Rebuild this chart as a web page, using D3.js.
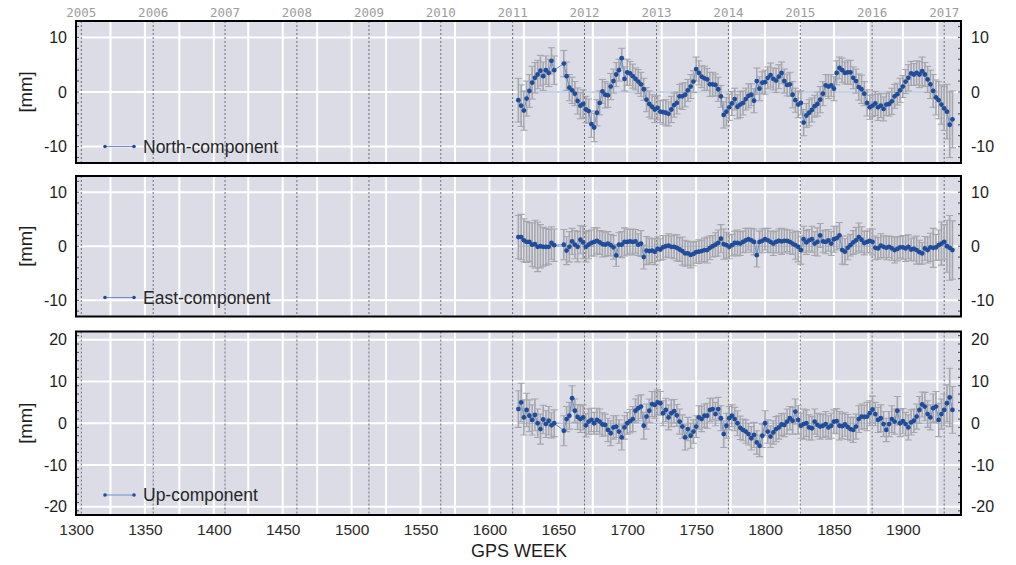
<!DOCTYPE html>
<html>
<head>
<meta charset="utf-8">
<script src="https://cdn.jsdelivr.net/npm/d3@7"></script>
<style>
  body { margin: 0; background: #fff; }
  svg { display: block; font-family: "Liberation Sans", Arial, Helvetica, sans-serif; }
</style>
</head>
<body>
<svg id="chart" width="1016" height="565"></svg>
<script>
// ── DATA ────────────────────────────────────────────
const weeks = [
  1621,1623,1625,1627,1629,1631,1633,1635,1637,1639,
  1641,1643,1645,1647,1654,1656,1658,1660,1662,1664,
  1666,1668,1670,1672,1674,1676,1678,1680,1682,1684,
  1686,1688,1690,1692,1694,1696,1698,1700,1702,1704,
  1706,1708,1710,1712,1714,1716,1718,1720,1722,1724,
  1726,1728,1730,1732,1734,1736,1738,1740,1742,1744,
  1746,1748,1750,1752,1754,1756,1758,1760,1762,1764,
  1766,1768,1770,1772,1774,1776,1778,1780,1782,1784,
  1786,1788,1790,1792,1794,1796,1798,1800,1802,1804,
  1806,1808,1810,1812,1814,1816,1818,1820,1822,1824,
  1826,1828,1830,1832,1834,1836,1838,1840,1842,1844,
  1846,1848,1850,1852,1854,1856,1858,1860,1862,1864,
  1866,1868,1870,1872,1874,1876,1878,1880,1882,1884,
  1886,1888,1890,1892,1894,1896,1898,1900,1902,1904,
  1906,1908,1910,1912,1914,1916,1918,1920,1922,1924,
  1926,1928,1930,1932,1934,1936
];

const north = [
  -1.5,-2.5,-3.4,-1.2,0.2,1.7,2.6,3.2,3.9,2.9,
  4.0,3.5,5.7,4.0,5.2,2.9,0.8,0.3,-0.3,-1.65,
  -2.5,-2.2,-3.2,-3.5,-5.9,-6.5,-3.8,-2.0,0.1,-0.5,
  -0.6,1.0,2.0,3.2,4.0,6.2,2.4,3.6,3.4,2.9,
  2.4,1.9,1.4,0.5,-1.4,-2.2,-2.7,-3.2,-2.9,-3.6,
  -3.7,-3.8,-4.0,-3.2,-2.4,-2.0,-0.8,-0.8,-0.5,0.3,
  1.0,1.9,4.2,3.5,2.8,2.5,2.3,1.4,1.4,1.3,
  0.5,-0.8,-4.2,-3.6,-2.8,-2.1,-1.3,-2.7,-2.3,-2.0,
  -1.3,-0.7,-0.5,-1.6,2.0,0.6,1.7,1.8,2.6,3.1,
  2.4,2.1,2.8,3.5,2.0,1.3,1.4,-0.5,-1.5,-2.3,
  -2.0,-5.6,-4.3,-3.8,-3.3,-2.6,-2.2,-1.4,-0.3,1.2,
  1.0,1.2,0.6,3.5,4.4,4.0,3.5,3.6,3.6,2.6,
  2.0,0.9,0.5,-0.3,-2.0,-2.8,-2.5,-2.1,-2.8,-2.5,
  -3.1,-2.3,-2.2,-1.7,-0.8,-0.4,0.3,1.0,1.9,2.6,
  3.4,3.2,3.5,3.2,3.8,3.2,2.3,1.4,0.2,-1.0,
  -1.5,-2.3,-3.0,-3.6,-6.0,-5.0
];
const northErr = [
  4.0,3.8,3.6,3.2,3.0,3.0,2.8,2.6,2.8,2.6,
  2.6,2.5,2.4,2.6,2.4,2.6,2.4,2.4,2.2,2.4,
  2.4,2.6,2.4,2.2,2.4,2.6,2.4,2.2,2.2,2.4,
  2.2,2.4,2.2,2.2,2.0,1.8,2.2,2.4,2.2,2.2,
  2.0,2.2,2.2,2.0,2.2,2.4,2.2,2.4,2.2,2.0,
  2.2,2.4,2.2,2.4,2.2,2.0,2.2,2.4,2.2,2.0,
  2.2,2.0,2.2,2.2,2.0,2.2,2.0,2.2,2.2,2.0,
  2.2,2.0,2.4,2.6,2.4,2.2,2.0,2.2,2.4,2.2,
  2.0,2.2,2.0,2.2,2.4,2.2,2.0,2.2,2.0,2.2,
  2.0,2.2,2.2,2.0,2.2,2.0,2.2,2.4,2.2,2.4,
  2.2,2.4,2.2,2.4,2.2,2.0,2.2,2.4,2.2,2.0,
  2.2,2.0,2.2,2.2,2.0,2.2,2.0,2.2,2.2,2.0,
  2.2,2.4,2.6,2.2,2.4,2.2,2.0,2.2,2.4,2.2,
  2.2,2.0,2.2,2.4,2.2,2.0,2.2,2.0,2.2,2.4,
  2.2,2.0,2.2,2.4,2.6,2.2,2.4,2.6,3.0,3.2,
  3.4,3.6,4.0,5.0,6.0,5.2
];

const east = [
  1.7,1.7,1.1,0.8,0.8,0.3,0.4,-0.1,0.0,-0.1,
  -0.1,-0.1,0.6,0.2,0.3,-0.8,-0.1,0.9,0.3,-0.1,
  1.2,0.7,-0.1,0.3,0.6,0.8,1.0,0.7,0.4,0.3,
  0.5,0.2,-0.2,-1.7,0.3,0.3,0.8,0.8,0.9,0.8,
  0.9,0.3,0.5,-2.0,-0.8,-0.9,-0.8,-1.0,-0.5,-0.6,
  -0.2,0.0,0.1,-0.1,-0.1,-0.3,-0.6,-0.9,-1.3,-1.3,
  -1.6,-1.4,-1.1,-1.0,-0.9,-0.7,-0.7,-0.3,0.0,0.3,
  0.6,1.4,0.4,0.2,-0.1,0.2,0.6,0.6,0.5,0.8,
  1.1,1.3,1.1,0.8,-1.65,0.8,1.0,1.3,1.1,0.8,
  0.5,0.8,1.0,0.9,1.0,1.0,0.8,0.5,0.2,-0.1,
  -0.7,1.3,0.7,1.1,1.3,0.5,0.8,2.0,0.9,0.8,
  1.1,0.5,1.3,1.5,2.0,-0.7,-1.0,-0.3,0.2,0.7,
  1.1,1.7,1.2,0.6,0.8,1.0,0.8,-0.3,-0.4,0.1,
  -0.1,-0.3,-0.1,-0.4,-0.7,-0.5,-0.2,-0.2,-0.4,-0.1,
  -0.6,-0.5,-0.7,-1.1,-1.3,-0.4,-0.7,-0.2,-0.3,-0.2,
  0.2,0.5,0.8,0.0,-0.3,-0.7
];
const eastErr = [
  4.0,4.2,4.0,3.8,3.6,4.0,4.4,4.6,4.0,3.6,
  3.4,3.2,3.0,3.0,2.8,2.6,2.8,2.4,2.6,2.8,
  2.6,3.0,2.8,2.6,2.4,2.6,2.4,2.2,2.4,2.2,
  2.2,2.0,2.2,2.0,2.2,2.4,2.6,2.4,2.2,2.4,
  2.2,2.0,2.4,2.2,2.6,2.4,2.2,2.4,2.2,2.0,
  2.2,2.0,2.2,2.0,2.2,2.4,2.2,2.6,2.4,2.2,
  2.4,2.2,2.0,2.2,2.0,2.2,2.4,2.2,2.0,2.2,
  2.4,2.6,2.8,2.4,2.2,2.0,2.2,2.4,2.2,2.0,
  2.2,2.0,2.2,2.4,2.2,2.0,2.2,2.0,2.2,2.0,
  2.2,2.0,2.2,2.4,2.2,2.0,2.2,2.0,2.6,2.8,
  2.6,2.4,2.2,2.0,2.4,2.2,2.6,2.2,2.0,2.2,
  2.0,2.2,2.4,2.2,2.4,2.6,2.4,2.2,2.0,2.2,
  2.4,2.6,2.4,2.2,2.0,2.2,2.4,2.2,2.0,2.2,
  2.0,2.2,2.0,2.2,2.4,2.2,2.0,2.2,2.4,2.2,
  2.0,2.2,2.6,2.2,2.0,2.2,2.4,2.6,3.6,2.4,
  2.8,4.0,3.2,4.8,6.0,5.4
];

const up = [
  3.4,5.0,1.4,3.2,1.8,0.8,2.0,0.0,-1.4,0.9,
  -0.2,0.6,-0.5,0.0,-1.8,1.0,1.8,6.0,3.0,1.5,
  1.0,1.4,-0.5,0.4,0.8,0.0,0.8,0.4,-0.3,-0.4,
  -1.6,-2.4,-1.0,-0.8,-2.0,-3.4,-1.0,0.0,0.5,1.0,
  3.0,3.6,4.0,-0.6,1.6,3.0,4.6,4.4,5.0,4.8,
  2.4,3.2,1.4,2.4,2.9,1.9,0.4,-0.8,-3.4,-1.4,
  -3.0,-2.0,-0.8,1.4,1.0,1.8,1.8,3.2,3.4,2.2,
  3.4,1.2,-2.6,-0.6,1.2,1.8,1.0,0.0,-1.1,-1.6,
  -2.0,-2.6,-3.6,-2.8,-4.6,-5.4,-3.0,0.0,-2.0,-3.2,
  -2.2,-1.4,-1.0,-0.3,-0.4,0.4,1.2,0.6,2.8,0.8,
  -0.6,-0.2,0.0,-1.0,-1.2,0.4,-0.4,-0.8,-0.6,-0.2,
  -1.0,-0.6,0.4,0.5,-0.6,-0.7,-0.3,-0.9,-1.4,-1.6,
  -0.8,1.0,1.6,1.5,1.6,2.4,3.3,2.2,0.8,1.2,
  -0.2,-1.6,-0.2,1.0,0.4,3.0,0.0,0.5,-0.2,-1.0,
  0.2,0.6,1.6,3.2,4.5,4.0,2.2,1.4,3.6,4.0,
  0.8,2.2,3.2,4.8,6.2,3.2
];
const upErr = [
  4.4,4.6,4.2,4.0,3.8,3.6,3.8,3.4,3.6,3.4,
  3.2,3.4,3.0,3.2,3.6,3.0,3.2,3.0,2.8,3.0,
  3.2,3.0,2.8,3.0,2.8,2.6,2.8,3.0,2.8,2.6,
  2.8,3.0,2.8,2.6,2.8,3.0,2.8,2.6,2.8,3.0,
  2.8,3.0,2.8,3.2,3.0,2.8,3.0,3.2,3.0,2.8,
  3.0,2.8,3.0,3.2,2.8,2.6,3.0,2.8,3.0,2.8,
  3.0,2.8,2.6,2.8,3.0,2.8,3.0,2.8,2.6,2.8,
  2.8,3.0,3.2,3.0,2.8,2.6,2.8,3.0,2.8,2.6,
  2.8,2.6,2.8,3.0,2.8,2.6,2.8,3.0,2.8,2.6,
  2.8,3.0,2.8,2.6,2.8,3.0,2.8,3.2,3.0,3.4,
  3.0,3.6,3.2,3.0,2.8,3.0,2.8,3.0,2.8,3.0,
  2.8,3.0,2.8,3.0,3.4,3.0,2.8,3.0,2.8,3.0,
  3.0,3.2,3.0,2.8,3.4,3.0,3.2,2.8,3.0,3.2,
  3.0,2.8,3.0,3.2,3.0,3.4,3.2,3.0,2.8,3.0,
  3.0,2.8,3.0,3.2,3.0,3.4,3.2,3.0,3.4,3.6,
  4.0,3.6,3.8,4.4,7.0,5.6
];

const weekTicks = [1300, 1350, 1400, 1450, 1500, 1550, 1600, 1650, 1700, 1750, 1800, 1850, 1900];
const years     = [2005, 2006, 2007, 2008, 2009, 2010, 2011, 2012, 2013, 2014, 2015, 2016, 2017];
const yTicksNE  = [-10, 0, 10];
const yTicksU   = [-20, -10, 0, 10, 20];

// ── LAYOUT ──────────────────────────────────────────
const C = {
  bg: '#dcdce6', grid: '#ffffff', year: '#6e6e78', err: '#a6a6ac',
  dot: '#1f4d9b', line: '#6a8fca', zero: '#b2c4de', text: '#1e1e1e'
};

// GPS week of 1 January of a given year
const gpsWeek = y => (Date.UTC(y, 0, 1) - Date.UTC(1980, 0, 6)) / 604800000;

const svg = d3.select('#chart');
const x = d3.scaleLinear().domain([1300, 1942.2]).range([76, 961]);
const [X0, X1] = x.range();
const gridWeeks = d3.range(1325, 1942, 25);
const fmt = d => String(d);

const panels = [
  { label: 'North-component', vals: north, errs: northErr, dom: [-13, 13], top: 21,    bot: 163,   ticks: yTicksNE, legY: 146.5 },
  { label: 'East-component',  vals: east,  errs: eastErr,  dom: [-13, 13], top: 176,   bot: 316.5, ticks: yTicksNE, legY: 297.5 },
  { label: 'Up-component',    vals: up,    errs: upErr,    dom: [-22, 22], top: 331.5, bot: 515,   ticks: yTicksU,  legY: 495 }
];

const defs = svg.append('defs');

panels.forEach((p, pi) => {
  const y = d3.scaleLinear().domain(p.dom).range([p.bot, p.top]);
  const g = svg.append('g');
  const pts = weeks.map((w, i) => ({ w, v: p.vals[i], e: p.errs[i] })).filter(d => d.v !== undefined);

  defs.append('clipPath').attr('id', `clip${pi}`)
    .append('rect').attr('x', X0).attr('y', p.top).attr('width', X1 - X0).attr('height', p.bot - p.top);

  g.append('rect').attr('x', X0).attr('y', p.top).attr('width', X1 - X0).attr('height', p.bot - p.top)
    .attr('fill', C.bg);

  // white grid
  g.selectAll('line.vg').data(gridWeeks).enter().append('line')
    .attr('x1', d => x(d)).attr('x2', d => x(d)).attr('y1', p.top).attr('y2', p.bot)
    .attr('stroke', C.grid).attr('stroke-width', 2);
  g.selectAll('line.hg').data(p.ticks).enter().append('line')
    .attr('x1', X0).attr('x2', X1).attr('y1', d => y(d)).attr('y2', d => y(d))
    .attr('stroke', C.grid).attr('stroke-width', 2);

  // year boundaries
  g.selectAll('line.yr').data(years).enter().append('line')
    .attr('x1', d => x(gpsWeek(d))).attr('x2', d => x(gpsWeek(d)))
    .attr('y1', p.top).attr('y2', p.bot)
    .attr('stroke', C.year).attr('stroke-width', 1).attr('stroke-dasharray', '2,2');

  const data = g.append('g').attr('clip-path', `url(#clip${pi})`);

  data.append('line')
    .attr('x1', x(weeks[0])).attr('x2', x(weeks[weeks.length - 1]))
    .attr('y1', y(0)).attr('y2', y(0))
    .attr('stroke', C.zero).attr('stroke-width', 1.5);

  // error bars
  const eb = data.selectAll('g.eb').data(pts).enter().append('g')
    .attr('stroke', C.err).attr('stroke-width', 1.6);
  eb.append('line')
    .attr('x1', d => x(d.w)).attr('x2', d => x(d.w))
    .attr('y1', d => y(d.v - d.e)).attr('y2', d => y(d.v + d.e));
  eb.append('line')
    .attr('x1', d => x(d.w) - 3.5).attr('x2', d => x(d.w) + 3.5)
    .attr('y1', d => y(d.v + d.e)).attr('y2', d => y(d.v + d.e))
    .attr('stroke-width', 1.1);
  eb.append('line')
    .attr('x1', d => x(d.w) - 3.5).attr('x2', d => x(d.w) + 3.5)
    .attr('y1', d => y(d.v - d.e)).attr('y2', d => y(d.v - d.e))
    .attr('stroke-width', 1.1);

  data.append('path').datum(pts)
    .attr('d', d3.line().x(d => x(d.w)).y(d => y(d.v)))
    .attr('fill', 'none').attr('stroke', C.line).attr('stroke-width', 1);

  data.selectAll('circle').data(pts).enter().append('circle')
    .attr('cx', d => x(d.w)).attr('cy', d => y(d.v)).attr('r', 2.4)
    .attr('fill', C.dot);

  // legend
  const lg = g.append('g');
  lg.append('line').attr('x1', 105).attr('x2', 134).attr('y1', p.legY).attr('y2', p.legY)
    .attr('stroke', C.line).attr('stroke-width', 1);
  lg.selectAll('circle').data([105, 134]).enter().append('circle')
    .attr('cx', d => d).attr('cy', p.legY).attr('r', 1.8).attr('fill', C.dot);
  lg.append('text').attr('x', 143).attr('y', p.legY).attr('dy', '0.35em')
    .attr('font-size', 17.5).attr('fill', '#262626').text(p.label);

  // small inner ticks on the frame
  const minor = d3.range(p.dom[0] + 1, p.dom[1], 2);
  g.selectAll('line.mt').data(minor).enter().append('line')
    .attr('x1', X0).attr('x2', X0 + 3).attr('y1', d => y(d)).attr('y2', d => y(d))
    .attr('stroke', '#222').attr('stroke-width', 0.8);
  g.selectAll('line.mt2').data(minor).enter().append('line')
    .attr('x1', X1 - 3).attr('x2', X1).attr('y1', d => y(d)).attr('y2', d => y(d))
    .attr('stroke', '#222').attr('stroke-width', 0.8);

  // frame
  g.append('rect').attr('x', X0).attr('y', p.top).attr('width', X1 - X0).attr('height', p.bot - p.top)
    .attr('fill', 'none').attr('stroke', '#000').attr('stroke-width', 2);

  // axes
  const left = g.append('g').attr('transform', `translate(${X0},0)`)
    .call(d3.axisLeft(y).tickValues(p.ticks).tickFormat(fmt).tickSize(0).tickPadding(9));
  const right = g.append('g').attr('transform', `translate(${X1},0)`)
    .call(d3.axisRight(y).tickValues(p.ticks).tickFormat(fmt).tickSize(0).tickPadding(10));
  [left, right].forEach(a => {
    a.select('.domain').remove();
    a.selectAll('text').attr('font-size', 16).attr('fill', C.text)
      .attr('font-family', '"Liberation Sans", Arial, sans-serif');
  });

  svg.append('text')
    .attr('transform', `translate(26,${(p.top + p.bot) / 2}) rotate(-90)`)
    .attr('text-anchor', 'middle').attr('dy', '0.35em')
    .attr('font-size', 18.5).attr('fill', C.text).text('[mm]');
});

// bottom axis
const bottom = svg.append('g').attr('transform', `translate(0,${panels[2].bot})`)
  .call(d3.axisBottom(x).tickValues(weekTicks).tickFormat(fmt).tickSize(0).tickPadding(9));
bottom.select('.domain').remove();
bottom.selectAll('text').attr('font-size', 15.5).attr('fill', '#2a2a2a')
  .attr('font-family', '"Liberation Sans", Arial, sans-serif');

svg.append('text').attr('x', 519).attr('y', 557)
  .attr('text-anchor', 'middle').attr('font-size', 18).attr('fill', '#1e1e1e')
  .text('GPS WEEK');

// year labels on top
svg.selectAll('text.yl').data(years).enter().append('text')
  .attr('x', d => x(gpsWeek(d))).attr('y', 16.5)
  .attr('text-anchor', 'middle')
  .attr('font-family', '"DejaVu Sans Mono", monospace').attr('font-size', 12.5)
  .attr('fill', '#9c9c9c')
  .text(d => d);
</script>
</body>
</html>
